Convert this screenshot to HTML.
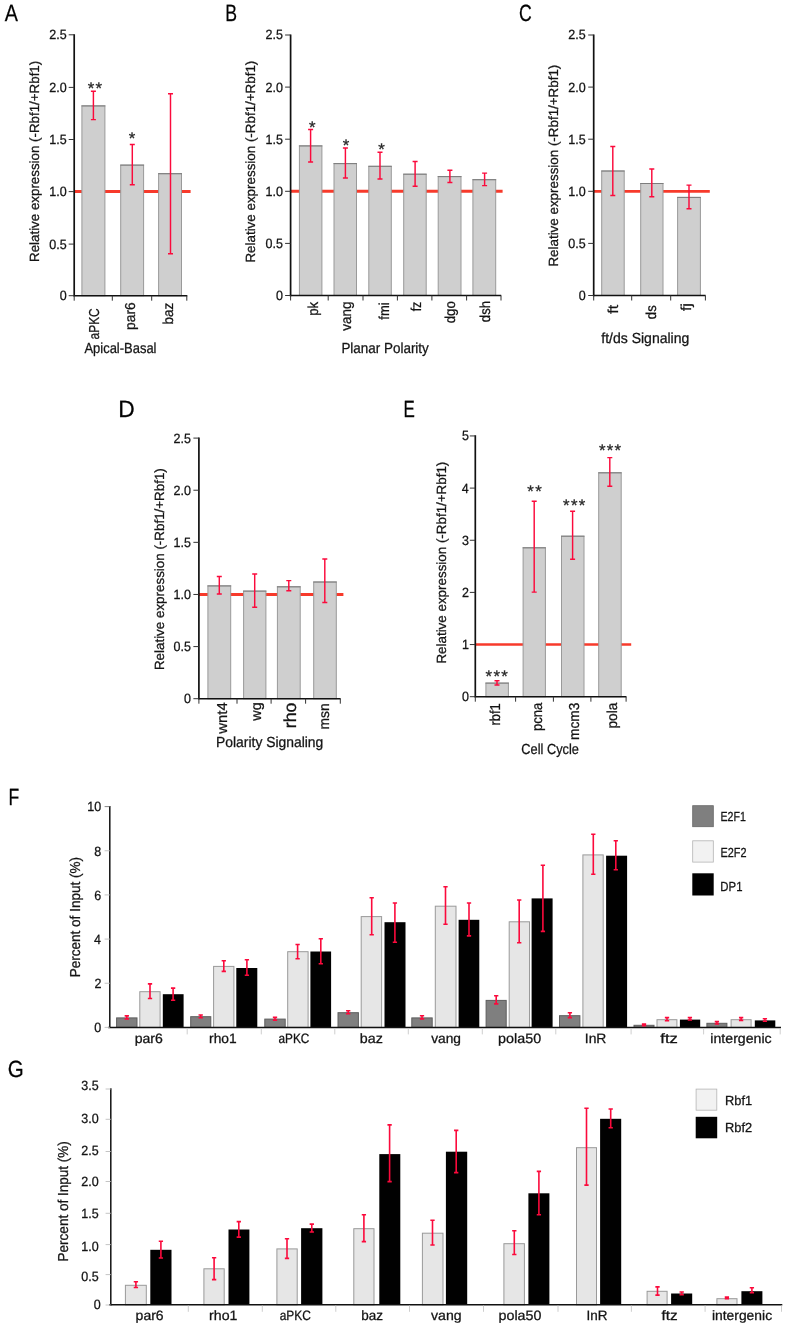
<!DOCTYPE html>
<html lang="en"><head><meta charset="utf-8"><title>Figure</title>
<style>html,body{margin:0;padding:0;background:#fff}svg{display:block}svg text{stroke:#141414;stroke-width:.28px}</style></head>
<body>
<svg width="787" height="1328" viewBox="0 0 787 1328" font-family='"Liberation Sans", Arial, sans-serif' shape-rendering="geometricPrecision" text-rendering="geometricPrecision">
<rect width="787" height="1328" fill="#fff"/>
<g opacity="0.999">
<line x1="74.2" y1="191.45" x2="190.6" y2="191.45" stroke="#f73a2b" stroke-width="2.9" stroke-linecap="butt"/>
<rect x="81.9" y="105.9" width="23" height="189.8" fill="#cfcfcf" stroke="#9a9a9a" stroke-width="1"/>
<line x1="81.4" y1="105.9" x2="105.4" y2="105.9" stroke="#7d7d7d" stroke-width="1" stroke-linecap="butt"/>
<rect x="120.7" y="165.1" width="22.9" height="130.6" fill="#cfcfcf" stroke="#9a9a9a" stroke-width="1"/>
<line x1="120.2" y1="165.1" x2="144.1" y2="165.1" stroke="#7d7d7d" stroke-width="1" stroke-linecap="butt"/>
<rect x="158.6" y="173.7" width="22.9" height="122" fill="#cfcfcf" stroke="#9a9a9a" stroke-width="1"/>
<line x1="158.1" y1="173.7" x2="182" y2="173.7" stroke="#7d7d7d" stroke-width="1" stroke-linecap="butt"/>
<line x1="74.2" y1="34.2" x2="74.2" y2="296.35" stroke="#111" stroke-width="1.7" stroke-linecap="butt"/>
<line x1="73.45" y1="295.7" x2="187.3" y2="295.7" stroke="#111" stroke-width="1.4" stroke-linecap="butt"/>
<line x1="68.7" y1="295.7" x2="74.2" y2="295.7" stroke="#333" stroke-width="1" stroke-linecap="butt"/>
<text x="59.74" y="300.18" font-size="13.4" text-anchor="start" fill="#141414" textLength="6.95" lengthAdjust="spacingAndGlyphs">0</text>
<line x1="68.7" y1="244.1" x2="74.2" y2="244.1" stroke="#333" stroke-width="1" stroke-linecap="butt"/>
<text x="49.35" y="248.58" font-size="13.4" text-anchor="start" fill="#141414" textLength="17.38" lengthAdjust="spacingAndGlyphs">0.5</text>
<line x1="68.7" y1="191.6" x2="74.2" y2="191.6" stroke="#333" stroke-width="1" stroke-linecap="butt"/>
<text x="49.31" y="196.08" font-size="13.4" text-anchor="start" fill="#141414" textLength="17.38" lengthAdjust="spacingAndGlyphs">1.0</text>
<line x1="68.7" y1="139.5" x2="74.2" y2="139.5" stroke="#333" stroke-width="1" stroke-linecap="butt"/>
<text x="49.35" y="143.98" font-size="13.4" text-anchor="start" fill="#141414" textLength="17.38" lengthAdjust="spacingAndGlyphs">1.5</text>
<line x1="68.7" y1="87.4" x2="74.2" y2="87.4" stroke="#333" stroke-width="1" stroke-linecap="butt"/>
<text x="49.31" y="91.88" font-size="13.4" text-anchor="start" fill="#141414" textLength="17.38" lengthAdjust="spacingAndGlyphs">2.0</text>
<line x1="68.7" y1="34.8" x2="74.2" y2="34.8" stroke="#333" stroke-width="1" stroke-linecap="butt"/>
<text x="49.35" y="39.28" font-size="13.4" text-anchor="start" fill="#141414" textLength="17.38" lengthAdjust="spacingAndGlyphs">2.5</text>
<line x1="74.2" y1="295.7" x2="74.2" y2="300.7" stroke="#333" stroke-width="1" stroke-linecap="butt"/>
<line x1="112.3" y1="295.7" x2="112.3" y2="300.7" stroke="#333" stroke-width="1" stroke-linecap="butt"/>
<line x1="151.7" y1="295.7" x2="151.7" y2="300.7" stroke="#333" stroke-width="1" stroke-linecap="butt"/>
<line x1="186.8" y1="295.7" x2="186.8" y2="300.7" stroke="#333" stroke-width="1" stroke-linecap="butt"/>
<path d="M90.9 91.3H95.9M90.9 119.6H95.9M93.4 91.3V119.6" stroke="#fb0a3c" stroke-width="1.45" fill="none"/>
<path d="M129.8 144.4H134.8M129.8 184.7H134.8M132.3 144.4V184.7" stroke="#fb0a3c" stroke-width="1.45" fill="none"/>
<path d="M168 93.8H173M168 253.8H173M170.5 93.8V253.8" stroke="#fb0a3c" stroke-width="1.45" fill="none"/>
<text x="95.55" y="93.86" font-size="16.8" text-anchor="middle" fill="#2b2b2b" letter-spacing="1.3" stroke="#2b2b2b" stroke-width="0.25">**</text>
<text x="132.55" y="143.66" font-size="16.8" text-anchor="middle" fill="#2b2b2b" letter-spacing="1.3" stroke="#2b2b2b" stroke-width="0.25">*</text>
<text transform="translate(99.3 339.5) rotate(-90)" font-size="14.4" fill="#141414" textLength="31.26" lengthAdjust="spacingAndGlyphs">aPKC</text>
<text transform="translate(134.5 329.9) rotate(-90)" font-size="14.4" fill="#141414" textLength="27.72" lengthAdjust="spacingAndGlyphs">par6</text>
<text transform="translate(173.3 324.58) rotate(-90)" font-size="14.4" fill="#141414" textLength="21.86" lengthAdjust="spacingAndGlyphs">baz</text>
<text transform="translate(39 261.99) rotate(-90)" font-size="13.3" fill="#141414" textLength="201.22" lengthAdjust="spacingAndGlyphs">Relative expression (-Rbf1/+Rbf1)</text>
<text x="84.47" y="352.5" font-size="14.6" text-anchor="start" fill="#141414" textLength="72" lengthAdjust="spacingAndGlyphs">Apical-Basal</text>
<text x="4.86" y="20.9" font-size="23.5" text-anchor="start" fill="#000" textLength="13.18" lengthAdjust="spacingAndGlyphs">A</text>
<line x1="290.6" y1="191.2" x2="502.6" y2="191.2" stroke="#f73a2b" stroke-width="2.9" stroke-linecap="butt"/>
<rect x="299.4" y="145.9" width="22.5" height="149.6" fill="#cfcfcf" stroke="#9a9a9a" stroke-width="1"/>
<line x1="298.9" y1="145.9" x2="322.4" y2="145.9" stroke="#7d7d7d" stroke-width="1" stroke-linecap="butt"/>
<rect x="334" y="163.6" width="22.5" height="131.9" fill="#cfcfcf" stroke="#9a9a9a" stroke-width="1"/>
<line x1="333.5" y1="163.6" x2="357" y2="163.6" stroke="#7d7d7d" stroke-width="1" stroke-linecap="butt"/>
<rect x="368.8" y="166.3" width="22.5" height="129.2" fill="#cfcfcf" stroke="#9a9a9a" stroke-width="1"/>
<line x1="368.3" y1="166.3" x2="391.8" y2="166.3" stroke="#7d7d7d" stroke-width="1" stroke-linecap="butt"/>
<rect x="403.7" y="174.2" width="22.5" height="121.3" fill="#cfcfcf" stroke="#9a9a9a" stroke-width="1"/>
<line x1="403.2" y1="174.2" x2="426.7" y2="174.2" stroke="#7d7d7d" stroke-width="1" stroke-linecap="butt"/>
<rect x="438.2" y="176.6" width="22.8" height="118.9" fill="#cfcfcf" stroke="#9a9a9a" stroke-width="1"/>
<line x1="437.7" y1="176.6" x2="461.5" y2="176.6" stroke="#7d7d7d" stroke-width="1" stroke-linecap="butt"/>
<rect x="472.9" y="179.7" width="22.8" height="115.8" fill="#cfcfcf" stroke="#9a9a9a" stroke-width="1"/>
<line x1="472.4" y1="179.7" x2="496.2" y2="179.7" stroke="#7d7d7d" stroke-width="1" stroke-linecap="butt"/>
<line x1="290.6" y1="34.5" x2="290.6" y2="296.15" stroke="#111" stroke-width="1.7" stroke-linecap="butt"/>
<line x1="289.85" y1="295.5" x2="501.2" y2="295.5" stroke="#111" stroke-width="1.4" stroke-linecap="butt"/>
<line x1="285.1" y1="295.5" x2="290.6" y2="295.5" stroke="#333" stroke-width="1" stroke-linecap="butt"/>
<text x="275.94" y="299.98" font-size="13.4" text-anchor="start" fill="#141414" textLength="6.95" lengthAdjust="spacingAndGlyphs">0</text>
<line x1="285.1" y1="243.4" x2="290.6" y2="243.4" stroke="#333" stroke-width="1" stroke-linecap="butt"/>
<text x="265.55" y="247.88" font-size="13.4" text-anchor="start" fill="#141414" textLength="17.38" lengthAdjust="spacingAndGlyphs">0.5</text>
<line x1="285.1" y1="191.3" x2="290.6" y2="191.3" stroke="#333" stroke-width="1" stroke-linecap="butt"/>
<text x="265.51" y="195.78" font-size="13.4" text-anchor="start" fill="#141414" textLength="17.38" lengthAdjust="spacingAndGlyphs">1.0</text>
<line x1="285.1" y1="139.2" x2="290.6" y2="139.2" stroke="#333" stroke-width="1" stroke-linecap="butt"/>
<text x="265.55" y="143.68" font-size="13.4" text-anchor="start" fill="#141414" textLength="17.38" lengthAdjust="spacingAndGlyphs">1.5</text>
<line x1="285.1" y1="87.1" x2="290.6" y2="87.1" stroke="#333" stroke-width="1" stroke-linecap="butt"/>
<text x="265.51" y="91.58" font-size="13.4" text-anchor="start" fill="#141414" textLength="17.38" lengthAdjust="spacingAndGlyphs">2.0</text>
<line x1="285.1" y1="35" x2="290.6" y2="35" stroke="#333" stroke-width="1" stroke-linecap="butt"/>
<text x="265.55" y="39.48" font-size="13.4" text-anchor="start" fill="#141414" textLength="17.38" lengthAdjust="spacingAndGlyphs">2.5</text>
<line x1="290.6" y1="295.5" x2="290.6" y2="300.5" stroke="#333" stroke-width="1" stroke-linecap="butt"/>
<line x1="328.2" y1="295.5" x2="328.2" y2="300.5" stroke="#333" stroke-width="1" stroke-linecap="butt"/>
<line x1="363" y1="295.5" x2="363" y2="300.5" stroke="#333" stroke-width="1" stroke-linecap="butt"/>
<line x1="397.4" y1="295.5" x2="397.4" y2="300.5" stroke="#333" stroke-width="1" stroke-linecap="butt"/>
<line x1="431.9" y1="295.5" x2="431.9" y2="300.5" stroke="#333" stroke-width="1" stroke-linecap="butt"/>
<line x1="466.6" y1="295.5" x2="466.6" y2="300.5" stroke="#333" stroke-width="1" stroke-linecap="butt"/>
<line x1="501" y1="295.5" x2="501" y2="300.5" stroke="#333" stroke-width="1" stroke-linecap="butt"/>
<path d="M308.1 129.5H313.1M308.1 162H313.1M310.6 129.5V162" stroke="#fb0a3c" stroke-width="1.45" fill="none"/>
<path d="M342.9 148H347.9M342.9 178H347.9M345.4 148V178" stroke="#fb0a3c" stroke-width="1.45" fill="none"/>
<path d="M377.5 152.3H382.5M377.5 178.9H382.5M380 152.3V178.9" stroke="#fb0a3c" stroke-width="1.45" fill="none"/>
<path d="M412.6 161.5H417.6M412.6 186.2H417.6M415.1 161.5V186.2" stroke="#fb0a3c" stroke-width="1.45" fill="none"/>
<path d="M447.4 170.3H452.4M447.4 182.5H452.4M449.9 170.3V182.5" stroke="#fb0a3c" stroke-width="1.45" fill="none"/>
<path d="M482.1 173.1H487.1M482.1 185.6H487.1M484.6 173.1V185.6" stroke="#fb0a3c" stroke-width="1.45" fill="none"/>
<text x="312.85" y="133.16" font-size="16.8" text-anchor="middle" fill="#2b2b2b" letter-spacing="1.3" stroke="#2b2b2b" stroke-width="0.25">*</text>
<text x="346.65" y="150.56" font-size="16.8" text-anchor="middle" fill="#2b2b2b" letter-spacing="1.3" stroke="#2b2b2b" stroke-width="0.25">*</text>
<text x="382.25" y="155.16" font-size="16.8" text-anchor="middle" fill="#2b2b2b" letter-spacing="1.3" stroke="#2b2b2b" stroke-width="0.25">*</text>
<text transform="translate(317.9 315.76) rotate(-90)" font-size="14.4" fill="#141414" textLength="13.95" lengthAdjust="spacingAndGlyphs">pk</text>
<text transform="translate(351.3 330.75) rotate(-90)" font-size="14.4" fill="#141414" textLength="29.22" lengthAdjust="spacingAndGlyphs">vang</text>
<text transform="translate(389 319.68) rotate(-90)" font-size="14.4" fill="#141414" textLength="17.25" lengthAdjust="spacingAndGlyphs">fmi</text>
<text transform="translate(421.2 311.37) rotate(-90)" font-size="14.4" fill="#141414" textLength="9.59" lengthAdjust="spacingAndGlyphs">fz</text>
<text transform="translate(454.6 323.36) rotate(-90)" font-size="14.4" fill="#141414" textLength="22.12" lengthAdjust="spacingAndGlyphs">dgo</text>
<text transform="translate(489.6 322.15) rotate(-90)" font-size="14.4" fill="#141414" textLength="21.21" lengthAdjust="spacingAndGlyphs">dsh</text>
<text transform="translate(255.2 262.6) rotate(-90)" font-size="13.3" fill="#141414" textLength="201.93" lengthAdjust="spacingAndGlyphs">Relative expression (-Rbf1/+Rbf1)</text>
<text x="341.4" y="352.7" font-size="14.6" text-anchor="start" fill="#141414" textLength="87.43" lengthAdjust="spacingAndGlyphs">Planar Polarity</text>
<text x="225.15" y="20.9" font-size="23.5" text-anchor="start" fill="#000" textLength="11.79" lengthAdjust="spacingAndGlyphs">B</text>
<line x1="593.7" y1="191.4" x2="709.8" y2="191.4" stroke="#f73a2b" stroke-width="2.9" stroke-linecap="butt"/>
<rect x="601.7" y="171" width="22.5" height="124.5" fill="#cfcfcf" stroke="#9a9a9a" stroke-width="1"/>
<line x1="601.2" y1="171" x2="624.7" y2="171" stroke="#7d7d7d" stroke-width="1" stroke-linecap="butt"/>
<rect x="640.7" y="183.5" width="22.3" height="112" fill="#cfcfcf" stroke="#9a9a9a" stroke-width="1"/>
<line x1="640.2" y1="183.5" x2="663.5" y2="183.5" stroke="#7d7d7d" stroke-width="1" stroke-linecap="butt"/>
<rect x="677.6" y="197.4" width="22.8" height="98.1" fill="#cfcfcf" stroke="#9a9a9a" stroke-width="1"/>
<line x1="677.1" y1="197.4" x2="700.9" y2="197.4" stroke="#7d7d7d" stroke-width="1" stroke-linecap="butt"/>
<line x1="593.7" y1="34.5" x2="593.7" y2="296.15" stroke="#111" stroke-width="1.7" stroke-linecap="butt"/>
<line x1="592.95" y1="295.5" x2="705.6" y2="295.5" stroke="#111" stroke-width="1.4" stroke-linecap="butt"/>
<line x1="588.2" y1="295.5" x2="593.7" y2="295.5" stroke="#333" stroke-width="1" stroke-linecap="butt"/>
<text x="578.74" y="299.98" font-size="13.4" text-anchor="start" fill="#141414" textLength="6.95" lengthAdjust="spacingAndGlyphs">0</text>
<line x1="588.2" y1="243.4" x2="593.7" y2="243.4" stroke="#333" stroke-width="1" stroke-linecap="butt"/>
<text x="568.35" y="247.88" font-size="13.4" text-anchor="start" fill="#141414" textLength="17.38" lengthAdjust="spacingAndGlyphs">0.5</text>
<line x1="588.2" y1="191.3" x2="593.7" y2="191.3" stroke="#333" stroke-width="1" stroke-linecap="butt"/>
<text x="568.31" y="195.78" font-size="13.4" text-anchor="start" fill="#141414" textLength="17.38" lengthAdjust="spacingAndGlyphs">1.0</text>
<line x1="588.2" y1="139.2" x2="593.7" y2="139.2" stroke="#333" stroke-width="1" stroke-linecap="butt"/>
<text x="568.35" y="143.68" font-size="13.4" text-anchor="start" fill="#141414" textLength="17.38" lengthAdjust="spacingAndGlyphs">1.5</text>
<line x1="588.2" y1="87.1" x2="593.7" y2="87.1" stroke="#333" stroke-width="1" stroke-linecap="butt"/>
<text x="568.31" y="91.58" font-size="13.4" text-anchor="start" fill="#141414" textLength="17.38" lengthAdjust="spacingAndGlyphs">2.0</text>
<line x1="588.2" y1="35" x2="593.7" y2="35" stroke="#333" stroke-width="1" stroke-linecap="butt"/>
<text x="568.35" y="39.48" font-size="13.4" text-anchor="start" fill="#141414" textLength="17.38" lengthAdjust="spacingAndGlyphs">2.5</text>
<line x1="593.7" y1="295.5" x2="593.7" y2="300.5" stroke="#333" stroke-width="1" stroke-linecap="butt"/>
<line x1="631.7" y1="295.5" x2="631.7" y2="300.5" stroke="#333" stroke-width="1" stroke-linecap="butt"/>
<line x1="670.7" y1="295.5" x2="670.7" y2="300.5" stroke="#333" stroke-width="1" stroke-linecap="butt"/>
<line x1="705.4" y1="295.5" x2="705.4" y2="300.5" stroke="#333" stroke-width="1" stroke-linecap="butt"/>
<path d="M610.3 146.4H615.3M610.3 195.5H615.3M612.8 146.4V195.5" stroke="#fb0a3c" stroke-width="1.45" fill="none"/>
<path d="M649.3 169H654.3M649.3 196.7H654.3M651.8 169V196.7" stroke="#fb0a3c" stroke-width="1.45" fill="none"/>
<path d="M686.5 185.1H691.5M686.5 208.8H691.5M689 185.1V208.8" stroke="#fb0a3c" stroke-width="1.45" fill="none"/>
<text transform="translate(618.1 313.72) rotate(-90)" font-size="14.4" fill="#141414" textLength="8.83" lengthAdjust="spacingAndGlyphs">ft</text>
<text transform="translate(656.2 319.15) rotate(-90)" font-size="14.4" fill="#141414" textLength="13.82" lengthAdjust="spacingAndGlyphs">ds</text>
<text transform="translate(690.8 311.12) rotate(-90)" font-size="14.4" fill="#141414" textLength="8" lengthAdjust="spacingAndGlyphs">fj</text>
<text transform="translate(557.8 266.6) rotate(-90)" font-size="13.3" fill="#141414" textLength="201.93" lengthAdjust="spacingAndGlyphs">Relative expression (-Rbf1/+Rbf1)</text>
<text x="601.3" y="343" font-size="14.6" text-anchor="start" fill="#141414" textLength="87.99" lengthAdjust="spacingAndGlyphs">ft/ds Signaling</text>
<text x="519" y="20.9" font-size="23.5" text-anchor="start" fill="#000" textLength="12.78" lengthAdjust="spacingAndGlyphs">C</text>
<line x1="198.9" y1="594.5" x2="343.4" y2="594.5" stroke="#f73a2b" stroke-width="2.9" stroke-linecap="butt"/>
<rect x="207.9" y="585.9" width="22.8" height="112.8" fill="#cfcfcf" stroke="#9a9a9a" stroke-width="1"/>
<line x1="207.4" y1="585.9" x2="231.2" y2="585.9" stroke="#7d7d7d" stroke-width="1" stroke-linecap="butt"/>
<rect x="243.6" y="591.1" width="22.3" height="107.6" fill="#cfcfcf" stroke="#9a9a9a" stroke-width="1"/>
<line x1="243.1" y1="591.1" x2="266.4" y2="591.1" stroke="#7d7d7d" stroke-width="1" stroke-linecap="butt"/>
<rect x="277.4" y="586.8" width="22.8" height="111.9" fill="#cfcfcf" stroke="#9a9a9a" stroke-width="1"/>
<line x1="276.9" y1="586.8" x2="300.7" y2="586.8" stroke="#7d7d7d" stroke-width="1" stroke-linecap="butt"/>
<rect x="313.7" y="582" width="22.6" height="116.7" fill="#cfcfcf" stroke="#9a9a9a" stroke-width="1"/>
<line x1="313.2" y1="582" x2="336.8" y2="582" stroke="#7d7d7d" stroke-width="1" stroke-linecap="butt"/>
<line x1="198.9" y1="437.5" x2="198.9" y2="699.35" stroke="#111" stroke-width="1.7" stroke-linecap="butt"/>
<line x1="198.15" y1="698.7" x2="340.6" y2="698.7" stroke="#111" stroke-width="1.4" stroke-linecap="butt"/>
<line x1="193.4" y1="698.7" x2="198.9" y2="698.7" stroke="#333" stroke-width="1" stroke-linecap="butt"/>
<text x="183.94" y="703.18" font-size="13.4" text-anchor="start" fill="#141414" textLength="6.95" lengthAdjust="spacingAndGlyphs">0</text>
<line x1="193.4" y1="646.58" x2="198.9" y2="646.58" stroke="#333" stroke-width="1" stroke-linecap="butt"/>
<text x="173.55" y="651.06" font-size="13.4" text-anchor="start" fill="#141414" textLength="17.38" lengthAdjust="spacingAndGlyphs">0.5</text>
<line x1="193.4" y1="594.46" x2="198.9" y2="594.46" stroke="#333" stroke-width="1" stroke-linecap="butt"/>
<text x="173.51" y="598.94" font-size="13.4" text-anchor="start" fill="#141414" textLength="17.38" lengthAdjust="spacingAndGlyphs">1.0</text>
<line x1="193.4" y1="542.34" x2="198.9" y2="542.34" stroke="#333" stroke-width="1" stroke-linecap="butt"/>
<text x="173.55" y="546.82" font-size="13.4" text-anchor="start" fill="#141414" textLength="17.38" lengthAdjust="spacingAndGlyphs">1.5</text>
<line x1="193.4" y1="490.22" x2="198.9" y2="490.22" stroke="#333" stroke-width="1" stroke-linecap="butt"/>
<text x="173.51" y="494.7" font-size="13.4" text-anchor="start" fill="#141414" textLength="17.38" lengthAdjust="spacingAndGlyphs">2.0</text>
<line x1="193.4" y1="438.1" x2="198.9" y2="438.1" stroke="#333" stroke-width="1" stroke-linecap="butt"/>
<text x="173.55" y="442.58" font-size="13.4" text-anchor="start" fill="#141414" textLength="17.38" lengthAdjust="spacingAndGlyphs">2.5</text>
<line x1="198.9" y1="698.7" x2="198.9" y2="703.7" stroke="#333" stroke-width="1" stroke-linecap="butt"/>
<line x1="237" y1="698.7" x2="237" y2="703.7" stroke="#333" stroke-width="1" stroke-linecap="butt"/>
<line x1="271.1" y1="698.7" x2="271.1" y2="703.7" stroke="#333" stroke-width="1" stroke-linecap="butt"/>
<line x1="305.6" y1="698.7" x2="305.6" y2="703.7" stroke="#333" stroke-width="1" stroke-linecap="butt"/>
<line x1="340.3" y1="698.7" x2="340.3" y2="703.7" stroke="#333" stroke-width="1" stroke-linecap="butt"/>
<path d="M216.8 576.5H221.8M216.8 593.9H221.8M219.3 576.5V593.9" stroke="#fb0a3c" stroke-width="1.45" fill="none"/>
<path d="M252.2 574H257.2M252.2 607.3H257.2M254.7 574V607.3" stroke="#fb0a3c" stroke-width="1.45" fill="none"/>
<path d="M286.3 580.6H291.3M286.3 590.8H291.3M288.8 580.6V590.8" stroke="#fb0a3c" stroke-width="1.45" fill="none"/>
<path d="M322.3 558.9H327.3M322.3 602.4H327.3M324.8 558.9V602.4" stroke="#fb0a3c" stroke-width="1.45" fill="none"/>
<text transform="translate(227.3 733.79) rotate(-90)" font-size="14.4" fill="#141414" textLength="31.52" lengthAdjust="spacingAndGlyphs">wnt4</text>
<text transform="translate(261.2 720.69) rotate(-90)" font-size="14.4" fill="#141414" textLength="18.31" lengthAdjust="spacingAndGlyphs">wg</text>
<text transform="translate(295.9 728.27) rotate(-90)" font-size="17.4" fill="#141414" textLength="25.73" lengthAdjust="spacingAndGlyphs">rho</text>
<text transform="translate(328.9 729.51) rotate(-90)" font-size="14.4" fill="#141414" textLength="26.11" lengthAdjust="spacingAndGlyphs">msn</text>
<text transform="translate(164.4 670.1) rotate(-90)" font-size="13.3" fill="#141414" textLength="201.93" lengthAdjust="spacingAndGlyphs">Relative expression (-Rbf1/+Rbf1)</text>
<text x="216.06" y="746.6" font-size="14.6" text-anchor="start" fill="#141414" textLength="107.23" lengthAdjust="spacingAndGlyphs">Polarity Signaling</text>
<text x="118.13" y="417.2" font-size="23.5" text-anchor="start" fill="#000" textLength="16.47" lengthAdjust="spacingAndGlyphs">D</text>
<line x1="475.3" y1="644.5" x2="631.2" y2="644.5" stroke="#f73a2b" stroke-width="2.3" stroke-linecap="butt"/>
<rect x="485.9" y="683.1" width="22.5" height="13.6" fill="#cfcfcf" stroke="#9a9a9a" stroke-width="1"/>
<line x1="485.4" y1="683.1" x2="508.9" y2="683.1" stroke="#7d7d7d" stroke-width="1" stroke-linecap="butt"/>
<rect x="523.1" y="547.8" width="22.3" height="148.9" fill="#cfcfcf" stroke="#9a9a9a" stroke-width="1"/>
<line x1="522.6" y1="547.8" x2="545.9" y2="547.8" stroke="#7d7d7d" stroke-width="1" stroke-linecap="butt"/>
<rect x="561.5" y="536.2" width="22.5" height="160.5" fill="#cfcfcf" stroke="#9a9a9a" stroke-width="1"/>
<line x1="561" y1="536.2" x2="584.5" y2="536.2" stroke="#7d7d7d" stroke-width="1" stroke-linecap="butt"/>
<rect x="598.7" y="472.8" width="22.5" height="223.9" fill="#cfcfcf" stroke="#9a9a9a" stroke-width="1"/>
<line x1="598.2" y1="472.8" x2="621.7" y2="472.8" stroke="#7d7d7d" stroke-width="1" stroke-linecap="butt"/>
<line x1="475.3" y1="435.3" x2="475.3" y2="697.35" stroke="#111" stroke-width="1.7" stroke-linecap="butt"/>
<line x1="474.55" y1="696.7" x2="626.4" y2="696.7" stroke="#111" stroke-width="1.4" stroke-linecap="butt"/>
<line x1="469.8" y1="696.7" x2="475.3" y2="696.7" stroke="#333" stroke-width="1" stroke-linecap="butt"/>
<text x="461.94" y="701.18" font-size="13.4" text-anchor="start" fill="#141414" textLength="6.95" lengthAdjust="spacingAndGlyphs">0</text>
<line x1="469.8" y1="644.55" x2="475.3" y2="644.55" stroke="#333" stroke-width="1" stroke-linecap="butt"/>
<text x="462.06" y="649.03" font-size="13.4" text-anchor="start" fill="#141414" textLength="6.95" lengthAdjust="spacingAndGlyphs">1</text>
<line x1="469.8" y1="592.4" x2="475.3" y2="592.4" stroke="#333" stroke-width="1" stroke-linecap="butt"/>
<text x="462.07" y="596.88" font-size="13.4" text-anchor="start" fill="#141414" textLength="6.95" lengthAdjust="spacingAndGlyphs">2</text>
<line x1="469.8" y1="540.25" x2="475.3" y2="540.25" stroke="#333" stroke-width="1" stroke-linecap="butt"/>
<text x="462" y="544.73" font-size="13.4" text-anchor="start" fill="#141414" textLength="6.95" lengthAdjust="spacingAndGlyphs">3</text>
<line x1="469.8" y1="488.1" x2="475.3" y2="488.1" stroke="#333" stroke-width="1" stroke-linecap="butt"/>
<text x="461.81" y="492.58" font-size="13.4" text-anchor="start" fill="#141414" textLength="6.95" lengthAdjust="spacingAndGlyphs">4</text>
<line x1="469.8" y1="435.95" x2="475.3" y2="435.95" stroke="#333" stroke-width="1" stroke-linecap="butt"/>
<text x="461.97" y="440.43" font-size="13.4" text-anchor="start" fill="#141414" textLength="6.95" lengthAdjust="spacingAndGlyphs">5</text>
<line x1="475.3" y1="696.7" x2="475.3" y2="701.7" stroke="#333" stroke-width="1" stroke-linecap="butt"/>
<line x1="515.6" y1="696.7" x2="515.6" y2="701.7" stroke="#333" stroke-width="1" stroke-linecap="butt"/>
<line x1="553.4" y1="696.7" x2="553.4" y2="701.7" stroke="#333" stroke-width="1" stroke-linecap="butt"/>
<line x1="590.9" y1="696.7" x2="590.9" y2="701.7" stroke="#333" stroke-width="1" stroke-linecap="butt"/>
<line x1="626.1" y1="696.7" x2="626.1" y2="701.7" stroke="#333" stroke-width="1" stroke-linecap="butt"/>
<path d="M494.5 680.8H499.5M494.5 685H499.5M497 680.8V685" stroke="#fb0a3c" stroke-width="1.45" fill="none"/>
<path d="M531.7 501.2H536.7M531.7 592.1H536.7M534.2 501.2V592.1" stroke="#fb0a3c" stroke-width="1.45" fill="none"/>
<path d="M570.1 511.3H575.1M570.1 559.2H575.1M572.6 511.3V559.2" stroke="#fb0a3c" stroke-width="1.45" fill="none"/>
<path d="M607.3 457.6H612.3M607.3 486.3H612.3M609.8 457.6V486.3" stroke="#fb0a3c" stroke-width="1.45" fill="none"/>
<text x="497.35" y="682.06" font-size="16.8" text-anchor="middle" fill="#2b2b2b" letter-spacing="1.3" stroke="#2b2b2b" stroke-width="0.25">***</text>
<text x="535.15" y="496.76" font-size="16.8" text-anchor="middle" fill="#2b2b2b" letter-spacing="1.3" stroke="#2b2b2b" stroke-width="0.25">**</text>
<text x="574.85" y="511.06" font-size="16.8" text-anchor="middle" fill="#2b2b2b" letter-spacing="1.3" stroke="#2b2b2b" stroke-width="0.25">***</text>
<text x="610.65" y="456.16" font-size="16.8" text-anchor="middle" fill="#2b2b2b" letter-spacing="1.3" stroke="#2b2b2b" stroke-width="0.25">***</text>
<text transform="translate(500.4 725.55) rotate(-90)" font-size="14.4" fill="#141414" textLength="22.29" lengthAdjust="spacingAndGlyphs">rbf1</text>
<text transform="translate(542 731.05) rotate(-90)" font-size="14.4" fill="#141414" textLength="28.36" lengthAdjust="spacingAndGlyphs">pcna</text>
<text transform="translate(578.8 739.9) rotate(-90)" font-size="14.4" fill="#141414" textLength="37.21" lengthAdjust="spacingAndGlyphs">mcm3</text>
<text transform="translate(617.3 728.59) rotate(-90)" font-size="14.4" fill="#141414" textLength="25.9" lengthAdjust="spacingAndGlyphs">pola</text>
<text transform="translate(446 663.6) rotate(-90)" font-size="13.3" fill="#141414" textLength="201.93" lengthAdjust="spacingAndGlyphs">Relative expression (-Rbf1/+Rbf1)</text>
<text x="521.35" y="754.2" font-size="14.6" text-anchor="start" fill="#141414" textLength="57.62" lengthAdjust="spacingAndGlyphs">Cell Cycle</text>
<text x="403.61" y="417.2" font-size="23.5" text-anchor="start" fill="#000" textLength="11.32" lengthAdjust="spacingAndGlyphs">E</text>
<rect x="116.6" y="1017.9" width="20.4" height="9.5" fill="#7f7f7f" stroke="#5e5e5e" stroke-width="1"/>
<rect x="139.8" y="991.7" width="20.3" height="35.7" fill="#e6e6e6" stroke="#9a9a9a" stroke-width="1"/>
<rect x="162.8" y="994.2" width="20.8" height="33.2" fill="#000"/>
<rect x="190.7" y="1016.7" width="20.1" height="10.7" fill="#7f7f7f" stroke="#5e5e5e" stroke-width="1"/>
<rect x="213.6" y="966.4" width="20.3" height="61" fill="#e6e6e6" stroke="#9a9a9a" stroke-width="1"/>
<rect x="236.3" y="968" width="21" height="59.4" fill="#000"/>
<rect x="264.8" y="1019.1" width="20.4" height="8.3" fill="#7f7f7f" stroke="#5e5e5e" stroke-width="1"/>
<rect x="287.7" y="951.7" width="20.4" height="75.7" fill="#e6e6e6" stroke="#9a9a9a" stroke-width="1"/>
<rect x="310.4" y="951.5" width="20.7" height="75.9" fill="#000"/>
<rect x="338" y="1012.7" width="20.4" height="14.7" fill="#7f7f7f" stroke="#5e5e5e" stroke-width="1"/>
<rect x="361.2" y="916.6" width="20.4" height="110.8" fill="#e6e6e6" stroke="#9a9a9a" stroke-width="1"/>
<rect x="384.5" y="922.2" width="21" height="105.2" fill="#000"/>
<rect x="411.8" y="1017.9" width="20.4" height="9.5" fill="#7f7f7f" stroke="#5e5e5e" stroke-width="1"/>
<rect x="435.3" y="906.2" width="20.7" height="121.2" fill="#e6e6e6" stroke="#9a9a9a" stroke-width="1"/>
<rect x="458.6" y="919.8" width="20.7" height="107.6" fill="#000"/>
<rect x="486.1" y="1000.4" width="20.1" height="27" fill="#7f7f7f" stroke="#5e5e5e" stroke-width="1"/>
<rect x="509.2" y="921.8" width="20.3" height="105.6" fill="#e6e6e6" stroke="#9a9a9a" stroke-width="1"/>
<rect x="531.6" y="898.4" width="21" height="129" fill="#000"/>
<rect x="559.5" y="1015.7" width="20.4" height="11.7" fill="#7f7f7f" stroke="#5e5e5e" stroke-width="1"/>
<rect x="582.9" y="854.9" width="20.3" height="172.5" fill="#e6e6e6" stroke="#9a9a9a" stroke-width="1"/>
<rect x="606.1" y="855.7" width="21" height="171.7" fill="#000"/>
<rect x="634" y="1025.3" width="20" height="2.1" fill="#7f7f7f" stroke="#5e5e5e" stroke-width="1"/>
<rect x="657" y="1019.7" width="19.9" height="7.7" fill="#e6e6e6" stroke="#9a9a9a" stroke-width="1"/>
<rect x="679.9" y="1019.6" width="20.3" height="7.8" fill="#000"/>
<rect x="706.9" y="1023.3" width="20" height="4.1" fill="#7f7f7f" stroke="#5e5e5e" stroke-width="1"/>
<rect x="731.1" y="1019.7" width="20" height="7.7" fill="#e6e6e6" stroke="#9a9a9a" stroke-width="1"/>
<rect x="754.8" y="1020.4" width="20.5" height="7" fill="#000"/>
<line x1="109.8" y1="806.1" x2="109.8" y2="1028.1" stroke="#111" stroke-width="1.5" stroke-linecap="butt"/>
<line x1="108.2" y1="1027.4" x2="781" y2="1027.4" stroke="#111" stroke-width="1.5" stroke-linecap="butt"/>
<line x1="104.6" y1="1027.4" x2="109.8" y2="1027.4" stroke="#bdbdbd" stroke-width="0.9" stroke-linecap="butt"/>
<text x="94.24" y="1032.28" font-size="13.4" text-anchor="start" fill="#141414" textLength="6.95" lengthAdjust="spacingAndGlyphs">0</text>
<line x1="104.6" y1="983.24" x2="109.8" y2="983.24" stroke="#bdbdbd" stroke-width="0.9" stroke-linecap="butt"/>
<text x="94.38" y="988.12" font-size="13.4" text-anchor="start" fill="#141414" textLength="6.95" lengthAdjust="spacingAndGlyphs">2</text>
<line x1="104.6" y1="939.08" x2="109.8" y2="939.08" stroke="#bdbdbd" stroke-width="0.9" stroke-linecap="butt"/>
<text x="94.11" y="943.96" font-size="13.4" text-anchor="start" fill="#141414" textLength="6.95" lengthAdjust="spacingAndGlyphs">4</text>
<line x1="104.6" y1="894.92" x2="109.8" y2="894.92" stroke="#bdbdbd" stroke-width="0.9" stroke-linecap="butt"/>
<text x="94.3" y="899.8" font-size="13.4" text-anchor="start" fill="#141414" textLength="6.95" lengthAdjust="spacingAndGlyphs">6</text>
<line x1="104.6" y1="850.76" x2="109.8" y2="850.76" stroke="#bdbdbd" stroke-width="0.9" stroke-linecap="butt"/>
<text x="94.29" y="855.64" font-size="13.4" text-anchor="start" fill="#141414" textLength="6.95" lengthAdjust="spacingAndGlyphs">8</text>
<line x1="104.6" y1="806.6" x2="109.8" y2="806.6" stroke="#777" stroke-width="0.9" stroke-linecap="butt"/>
<text x="87.29" y="811.48" font-size="13.4" text-anchor="start" fill="#141414" textLength="13.9" lengthAdjust="spacingAndGlyphs">10</text>
<line x1="187.2" y1="1028.1" x2="187.2" y2="1034.4" stroke="#c8c8c8" stroke-width="0.9" stroke-linecap="butt"/>
<line x1="261.3" y1="1028.1" x2="261.3" y2="1034.4" stroke="#c8c8c8" stroke-width="0.9" stroke-linecap="butt"/>
<line x1="334.8" y1="1028.1" x2="334.8" y2="1034.4" stroke="#c8c8c8" stroke-width="0.9" stroke-linecap="butt"/>
<line x1="408.3" y1="1028.1" x2="408.3" y2="1034.4" stroke="#c8c8c8" stroke-width="0.9" stroke-linecap="butt"/>
<line x1="482.3" y1="1028.1" x2="482.3" y2="1034.4" stroke="#c8c8c8" stroke-width="0.9" stroke-linecap="butt"/>
<line x1="555.8" y1="1028.1" x2="555.8" y2="1034.4" stroke="#c8c8c8" stroke-width="0.9" stroke-linecap="butt"/>
<line x1="631.1" y1="1028.1" x2="631.1" y2="1034.4" stroke="#c8c8c8" stroke-width="0.9" stroke-linecap="butt"/>
<line x1="703.6" y1="1028.1" x2="703.6" y2="1034.4" stroke="#c8c8c8" stroke-width="0.9" stroke-linecap="butt"/>
<line x1="780.2" y1="1028.1" x2="780.2" y2="1034.4" stroke="#c8c8c8" stroke-width="0.9" stroke-linecap="butt"/>
<path d="M124.65 1015.9H128.95M124.65 1018.9H128.95M126.8 1015.9V1018.9" stroke="#fb0a3c" stroke-width="1.6" fill="none"/>
<path d="M147.85 983.9H152.15M147.85 998.5H152.15M150 983.9V998.5" stroke="#fb0a3c" stroke-width="1.6" fill="none"/>
<path d="M170.95 988.1H175.25M170.95 1000.3H175.25M173.1 988.1V1000.3" stroke="#fb0a3c" stroke-width="1.6" fill="none"/>
<path d="M198.55 1015H202.85M198.55 1017.7H202.85M200.7 1015V1017.7" stroke="#fb0a3c" stroke-width="1.6" fill="none"/>
<path d="M221.65 960.7H225.95M221.65 971.4H225.95M223.8 960.7V971.4" stroke="#fb0a3c" stroke-width="1.6" fill="none"/>
<path d="M244.75 959.8H249.05M244.75 975.3H249.05M246.9 959.8V975.3" stroke="#fb0a3c" stroke-width="1.6" fill="none"/>
<path d="M272.85 1017.4H277.15M272.85 1020.1H277.15M275 1017.4V1020.1" stroke="#fb0a3c" stroke-width="1.6" fill="none"/>
<path d="M295.45 944.5H299.75M295.45 958.8H299.75M297.6 944.5V958.8" stroke="#fb0a3c" stroke-width="1.6" fill="none"/>
<path d="M318.65 938.7H322.95M318.65 963.7H322.95M320.8 938.7V963.7" stroke="#fb0a3c" stroke-width="1.6" fill="none"/>
<path d="M346.05 1010.7H350.35M346.05 1013.7H350.35M348.2 1010.7V1013.7" stroke="#fb0a3c" stroke-width="1.6" fill="none"/>
<path d="M369.55 897.8H373.85M369.55 934.7H373.85M371.7 897.8V934.7" stroke="#fb0a3c" stroke-width="1.6" fill="none"/>
<path d="M392.75 903H397.05M392.75 942.3H397.05M394.9 903V942.3" stroke="#fb0a3c" stroke-width="1.6" fill="none"/>
<path d="M419.85 1015.8H424.15M419.85 1018.9H424.15M422 1015.8V1018.9" stroke="#fb0a3c" stroke-width="1.6" fill="none"/>
<path d="M443.35 886.8H447.65M443.35 924.3H447.65M445.5 886.8V924.3" stroke="#fb0a3c" stroke-width="1.6" fill="none"/>
<path d="M466.85 903H471.15M466.85 935.9H471.15M469 903V935.9" stroke="#fb0a3c" stroke-width="1.6" fill="none"/>
<path d="M494.05 995.8H498.35M494.05 1003.9H498.35M496.2 995.8V1003.9" stroke="#fb0a3c" stroke-width="1.6" fill="none"/>
<path d="M517.05 900H521.35M517.05 942.7H521.35M519.2 900V942.7" stroke="#fb0a3c" stroke-width="1.6" fill="none"/>
<path d="M540.75 865.3H545.05M540.75 931.4H545.05M542.9 865.3V931.4" stroke="#fb0a3c" stroke-width="1.6" fill="none"/>
<path d="M567.75 1012.7H572.05M567.75 1017.6H572.05M569.9 1012.7V1017.6" stroke="#fb0a3c" stroke-width="1.6" fill="none"/>
<path d="M591.15 834.3H595.45M591.15 874.2H595.45M593.3 834.3V874.2" stroke="#fb0a3c" stroke-width="1.6" fill="none"/>
<path d="M613.65 840.8H617.95M613.65 869.8H617.95M615.8 840.8V869.8" stroke="#fb0a3c" stroke-width="1.6" fill="none"/>
<path d="M641.85 1024H646.15M641.85 1025.6H646.15M644 1024V1025.6" stroke="#fb0a3c" stroke-width="1.6" fill="none"/>
<path d="M664.85 1017.6H669.15M664.85 1020.8H669.15M667 1017.6V1020.8" stroke="#fb0a3c" stroke-width="1.6" fill="none"/>
<path d="M687.75 1017.6H692.05M687.75 1020H692.05M689.9 1017.6V1020" stroke="#fb0a3c" stroke-width="1.6" fill="none"/>
<path d="M714.75 1021.6H719.05M714.75 1024H719.05M716.9 1021.6V1024" stroke="#fb0a3c" stroke-width="1.6" fill="none"/>
<path d="M738.95 1017.6H743.25M738.95 1020.4H743.25M741.1 1017.6V1020.4" stroke="#fb0a3c" stroke-width="1.6" fill="none"/>
<path d="M762.75 1018.8H767.05M762.75 1021.2H767.05M764.9 1018.8V1021.2" stroke="#fb0a3c" stroke-width="1.6" fill="none"/>
<text x="134.69" y="1043.2" font-size="13.6" text-anchor="start" fill="#141414" textLength="28.14" lengthAdjust="spacingAndGlyphs">par6</text>
<text x="209.09" y="1043.2" font-size="13.6" text-anchor="start" fill="#141414" textLength="27.59" lengthAdjust="spacingAndGlyphs">rho1</text>
<text x="278.55" y="1043.2" font-size="13.6" text-anchor="start" fill="#141414" textLength="30.85" lengthAdjust="spacingAndGlyphs">aPKC</text>
<text x="359.83" y="1043.2" font-size="13.6" text-anchor="start" fill="#141414" textLength="22.94" lengthAdjust="spacingAndGlyphs">baz</text>
<text x="431.19" y="1043.2" font-size="13.6" text-anchor="start" fill="#141414" textLength="29.84" lengthAdjust="spacingAndGlyphs">vang</text>
<text x="498.12" y="1043.2" font-size="13.6" text-anchor="start" fill="#141414" textLength="42.99" lengthAdjust="spacingAndGlyphs">pola50</text>
<text x="584.77" y="1043.2" font-size="13.6" text-anchor="start" fill="#141414" textLength="21.63" lengthAdjust="spacingAndGlyphs">InR</text>
<text x="660.32" y="1043.2" font-size="13.6" text-anchor="start" fill="#141414" textLength="17.56" lengthAdjust="spacingAndGlyphs">ftz</text>
<text x="710.35" y="1043.2" font-size="13.6" text-anchor="start" fill="#141414" textLength="61.31" lengthAdjust="spacingAndGlyphs">intergenic</text>
<text transform="translate(80.2 977.31) rotate(-90)" font-size="14.4" fill="#141414" textLength="120.35" lengthAdjust="spacingAndGlyphs">Percent of Input (%)</text>
<rect x="692.7" y="805.7" width="20.6" height="21" fill="#7f7f7f" stroke="#666" stroke-width="0.8"/>
<text x="720.43" y="821.4" font-size="13.2" text-anchor="start" fill="#141414" textLength="25.39" lengthAdjust="spacingAndGlyphs">E2F1</text>
<rect x="692.7" y="840.8" width="20.6" height="21.3" fill="#f2f2f2" stroke="#b4b4b4" stroke-width="0.8"/>
<text x="720.41" y="856.5" font-size="13.2" text-anchor="start" fill="#141414" textLength="26.04" lengthAdjust="spacingAndGlyphs">E2F2</text>
<rect x="692.3" y="873.3" width="21.4" height="22.2" fill="#000"/>
<text x="720.37" y="890.7" font-size="13.2" text-anchor="start" fill="#141414" textLength="22.09" lengthAdjust="spacingAndGlyphs">DP1</text>
<text x="8.51" y="804.6" font-size="23.5" text-anchor="start" fill="#000" textLength="10.74" lengthAdjust="spacingAndGlyphs">F</text>
<rect x="125.4" y="1285.3" width="20.9" height="19.5" fill="#e6e6e6" stroke="#9a9a9a" stroke-width="1"/>
<rect x="150.3" y="1249.8" width="21.2" height="55" fill="#000"/>
<rect x="203.9" y="1268.8" width="20.3" height="36" fill="#e6e6e6" stroke="#9a9a9a" stroke-width="1"/>
<rect x="228.5" y="1229.5" width="20.9" height="75.3" fill="#000"/>
<rect x="276.9" y="1248.9" width="20.3" height="55.9" fill="#e6e6e6" stroke="#9a9a9a" stroke-width="1"/>
<rect x="301.1" y="1228.2" width="21.3" height="76.6" fill="#000"/>
<rect x="353.8" y="1228.7" width="20.2" height="76.1" fill="#e6e6e6" stroke="#9a9a9a" stroke-width="1"/>
<rect x="379.3" y="1154.1" width="21" height="150.7" fill="#000"/>
<rect x="422.4" y="1233.2" width="20.6" height="71.6" fill="#e6e6e6" stroke="#9a9a9a" stroke-width="1"/>
<rect x="445.9" y="1151.7" width="21.3" height="153.1" fill="#000"/>
<rect x="503.9" y="1243.7" width="20.5" height="61.1" fill="#e6e6e6" stroke="#9a9a9a" stroke-width="1"/>
<rect x="528.4" y="1193.3" width="21" height="111.5" fill="#000"/>
<rect x="576.5" y="1147.7" width="20" height="157.1" fill="#e6e6e6" stroke="#9a9a9a" stroke-width="1"/>
<rect x="600.1" y="1118.8" width="21.1" height="186" fill="#000"/>
<rect x="647.1" y="1291.3" width="20" height="13.5" fill="#e6e6e6" stroke="#9a9a9a" stroke-width="1"/>
<rect x="671.1" y="1293.5" width="21.1" height="11.3" fill="#000"/>
<rect x="716.9" y="1298.7" width="20.1" height="6.1" fill="#e6e6e6" stroke="#9a9a9a" stroke-width="1"/>
<rect x="741.4" y="1291.2" width="21" height="13.6" fill="#000"/>
<line x1="110.8" y1="1088.2" x2="110.8" y2="1305.5" stroke="#111" stroke-width="1.5" stroke-linecap="butt"/>
<line x1="109.2" y1="1304.8" x2="782.3" y2="1304.8" stroke="#111" stroke-width="1.5" stroke-linecap="butt"/>
<line x1="105.6" y1="1305" x2="110.8" y2="1305" stroke="#bdbdbd" stroke-width="0.9" stroke-linecap="butt"/>
<text x="93.74" y="1309.38" font-size="13.4" text-anchor="start" fill="#141414" textLength="6.95" lengthAdjust="spacingAndGlyphs">0</text>
<line x1="105.6" y1="1274.6" x2="110.8" y2="1274.6" stroke="#bdbdbd" stroke-width="0.9" stroke-linecap="butt"/>
<text x="81.35" y="1280.98" font-size="13.4" text-anchor="start" fill="#141414" textLength="17.38" lengthAdjust="spacingAndGlyphs">0.5</text>
<line x1="105.6" y1="1244.6" x2="110.8" y2="1244.6" stroke="#bdbdbd" stroke-width="0.9" stroke-linecap="butt"/>
<text x="81.31" y="1250.68" font-size="13.4" text-anchor="start" fill="#141414" textLength="17.38" lengthAdjust="spacingAndGlyphs">1.0</text>
<line x1="105.6" y1="1213.3" x2="110.8" y2="1213.3" stroke="#bdbdbd" stroke-width="0.9" stroke-linecap="butt"/>
<text x="81.35" y="1218.18" font-size="13.4" text-anchor="start" fill="#141414" textLength="17.38" lengthAdjust="spacingAndGlyphs">1.5</text>
<line x1="105.6" y1="1181.5" x2="110.8" y2="1181.5" stroke="#bdbdbd" stroke-width="0.9" stroke-linecap="butt"/>
<text x="81.31" y="1185.98" font-size="13.4" text-anchor="start" fill="#141414" textLength="17.38" lengthAdjust="spacingAndGlyphs">2.0</text>
<line x1="105.6" y1="1151.5" x2="110.8" y2="1151.5" stroke="#bdbdbd" stroke-width="0.9" stroke-linecap="butt"/>
<text x="81.35" y="1154.98" font-size="13.4" text-anchor="start" fill="#141414" textLength="17.38" lengthAdjust="spacingAndGlyphs">2.5</text>
<line x1="105.6" y1="1119.3" x2="110.8" y2="1119.3" stroke="#bdbdbd" stroke-width="0.9" stroke-linecap="butt"/>
<text x="81.31" y="1122.68" font-size="13.4" text-anchor="start" fill="#141414" textLength="17.38" lengthAdjust="spacingAndGlyphs">3.0</text>
<line x1="105.6" y1="1089" x2="110.8" y2="1089" stroke="#bdbdbd" stroke-width="0.9" stroke-linecap="butt"/>
<text x="81.35" y="1090.08" font-size="13.4" text-anchor="start" fill="#141414" textLength="17.38" lengthAdjust="spacingAndGlyphs">3.5</text>
<line x1="188.3" y1="1305.5" x2="188.3" y2="1311.8" stroke="#c8c8c8" stroke-width="0.9" stroke-linecap="butt"/>
<line x1="262.3" y1="1305.5" x2="262.3" y2="1311.8" stroke="#c8c8c8" stroke-width="0.9" stroke-linecap="butt"/>
<line x1="335.8" y1="1305.5" x2="335.8" y2="1311.8" stroke="#c8c8c8" stroke-width="0.9" stroke-linecap="butt"/>
<line x1="409.5" y1="1305.5" x2="409.5" y2="1311.8" stroke="#c8c8c8" stroke-width="0.9" stroke-linecap="butt"/>
<line x1="483.5" y1="1305.5" x2="483.5" y2="1311.8" stroke="#c8c8c8" stroke-width="0.9" stroke-linecap="butt"/>
<line x1="558" y1="1305.5" x2="558" y2="1311.8" stroke="#c8c8c8" stroke-width="0.9" stroke-linecap="butt"/>
<line x1="631.4" y1="1305.5" x2="631.4" y2="1311.8" stroke="#c8c8c8" stroke-width="0.9" stroke-linecap="butt"/>
<line x1="705.1" y1="1305.5" x2="705.1" y2="1311.8" stroke="#c8c8c8" stroke-width="0.9" stroke-linecap="butt"/>
<line x1="781.5" y1="1305.5" x2="781.5" y2="1311.8" stroke="#c8c8c8" stroke-width="0.9" stroke-linecap="butt"/>
<path d="M133.75 1281.7H138.05M133.75 1287.5H138.05M135.9 1281.7V1287.5" stroke="#fb0a3c" stroke-width="1.6" fill="none"/>
<path d="M158.75 1241.2H163.05M158.75 1258H163.05M160.9 1241.2V1258" stroke="#fb0a3c" stroke-width="1.6" fill="none"/>
<path d="M211.95 1257.7H216.25M211.95 1279.6H216.25M214.1 1257.7V1279.6" stroke="#fb0a3c" stroke-width="1.6" fill="none"/>
<path d="M236.65 1221.6H240.95M236.65 1237.1H240.95M238.8 1221.6V1237.1" stroke="#fb0a3c" stroke-width="1.6" fill="none"/>
<path d="M284.85 1238.8H289.15M284.85 1258.4H289.15M287 1238.8V1258.4" stroke="#fb0a3c" stroke-width="1.6" fill="none"/>
<path d="M309.65 1224.1H313.95M309.65 1232H313.95M311.8 1224.1V1232" stroke="#fb0a3c" stroke-width="1.6" fill="none"/>
<path d="M361.75 1214.8H366.05M361.75 1241.6H366.05M363.9 1214.8V1241.6" stroke="#fb0a3c" stroke-width="1.6" fill="none"/>
<path d="M387.45 1124.9H391.75M387.45 1181.6H391.75M389.6 1124.9V1181.6" stroke="#fb0a3c" stroke-width="1.6" fill="none"/>
<path d="M430.35 1220.3H434.65M430.35 1245H434.65M432.5 1220.3V1245" stroke="#fb0a3c" stroke-width="1.6" fill="none"/>
<path d="M454.05 1130.4H458.35M454.05 1172.6H458.35M456.2 1130.4V1172.6" stroke="#fb0a3c" stroke-width="1.6" fill="none"/>
<path d="M512.15 1230.7H516.45M512.15 1254.5H516.45M514.3 1230.7V1254.5" stroke="#fb0a3c" stroke-width="1.6" fill="none"/>
<path d="M536.75 1171.4H541.05M536.75 1214.7H541.05M538.9 1171.4V1214.7" stroke="#fb0a3c" stroke-width="1.6" fill="none"/>
<path d="M584.35 1108.2H588.65M584.35 1185.1H588.65M586.5 1108.2V1185.1" stroke="#fb0a3c" stroke-width="1.6" fill="none"/>
<path d="M608.55 1109H612.85M608.55 1127.7H612.85M610.7 1109V1127.7" stroke="#fb0a3c" stroke-width="1.6" fill="none"/>
<path d="M655.35 1286.9H659.65M655.35 1295.1H659.65M657.5 1286.9V1295.1" stroke="#fb0a3c" stroke-width="1.6" fill="none"/>
<path d="M679.55 1292H683.85M679.55 1294.7H683.85M681.7 1292V1294.7" stroke="#fb0a3c" stroke-width="1.6" fill="none"/>
<path d="M724.75 1297H729.05M724.75 1298.6H729.05M726.9 1297V1298.6" stroke="#fb0a3c" stroke-width="1.6" fill="none"/>
<path d="M749.75 1287.7H754.05M749.75 1292.7H754.05M751.9 1287.7V1292.7" stroke="#fb0a3c" stroke-width="1.6" fill="none"/>
<text x="135.64" y="1319.8" font-size="13.6" text-anchor="start" fill="#141414" textLength="28.03" lengthAdjust="spacingAndGlyphs">par6</text>
<text x="209.12" y="1319.8" font-size="13.6" text-anchor="start" fill="#141414" textLength="28.33" lengthAdjust="spacingAndGlyphs">rho1</text>
<text x="279.7" y="1319.8" font-size="13.6" text-anchor="start" fill="#141414" textLength="31.16" lengthAdjust="spacingAndGlyphs">aPKC</text>
<text x="361.32" y="1319.8" font-size="13.6" text-anchor="start" fill="#141414" textLength="21.76" lengthAdjust="spacingAndGlyphs">baz</text>
<text x="431.04" y="1319.8" font-size="13.6" text-anchor="start" fill="#141414" textLength="30.57" lengthAdjust="spacingAndGlyphs">vang</text>
<text x="498.57" y="1319.8" font-size="13.6" text-anchor="start" fill="#141414" textLength="42.88" lengthAdjust="spacingAndGlyphs">pola50</text>
<text x="586.41" y="1319.8" font-size="13.6" text-anchor="start" fill="#141414" textLength="20.98" lengthAdjust="spacingAndGlyphs">InR</text>
<text x="661.59" y="1319.8" font-size="13.6" text-anchor="start" fill="#141414" textLength="16.18" lengthAdjust="spacingAndGlyphs">ftz</text>
<text x="711.92" y="1319.8" font-size="13.6" text-anchor="start" fill="#141414" textLength="60.19" lengthAdjust="spacingAndGlyphs">intergenic</text>
<text transform="translate(67.7 1261.41) rotate(-90)" font-size="14.4" fill="#141414" textLength="120.15" lengthAdjust="spacingAndGlyphs">Percent of Input (%)</text>
<rect x="696.1" y="1089.1" width="20.7" height="21.1" fill="#f2f2f2" stroke="#b4b4b4" stroke-width="0.8"/>
<text x="725.05" y="1105.1" font-size="13.2" text-anchor="start" fill="#141414" textLength="27.08" lengthAdjust="spacingAndGlyphs">Rbf1</text>
<rect x="695.7" y="1116.8" width="21.5" height="21.5" fill="#000"/>
<text x="725.05" y="1132.4" font-size="13.2" text-anchor="start" fill="#141414" textLength="27.1" lengthAdjust="spacingAndGlyphs">Rbf2</text>
<text x="7.87" y="1077" font-size="23.5" text-anchor="start" fill="#000" textLength="15.96" lengthAdjust="spacingAndGlyphs">G</text>
</g>
</svg>
</body></html>
